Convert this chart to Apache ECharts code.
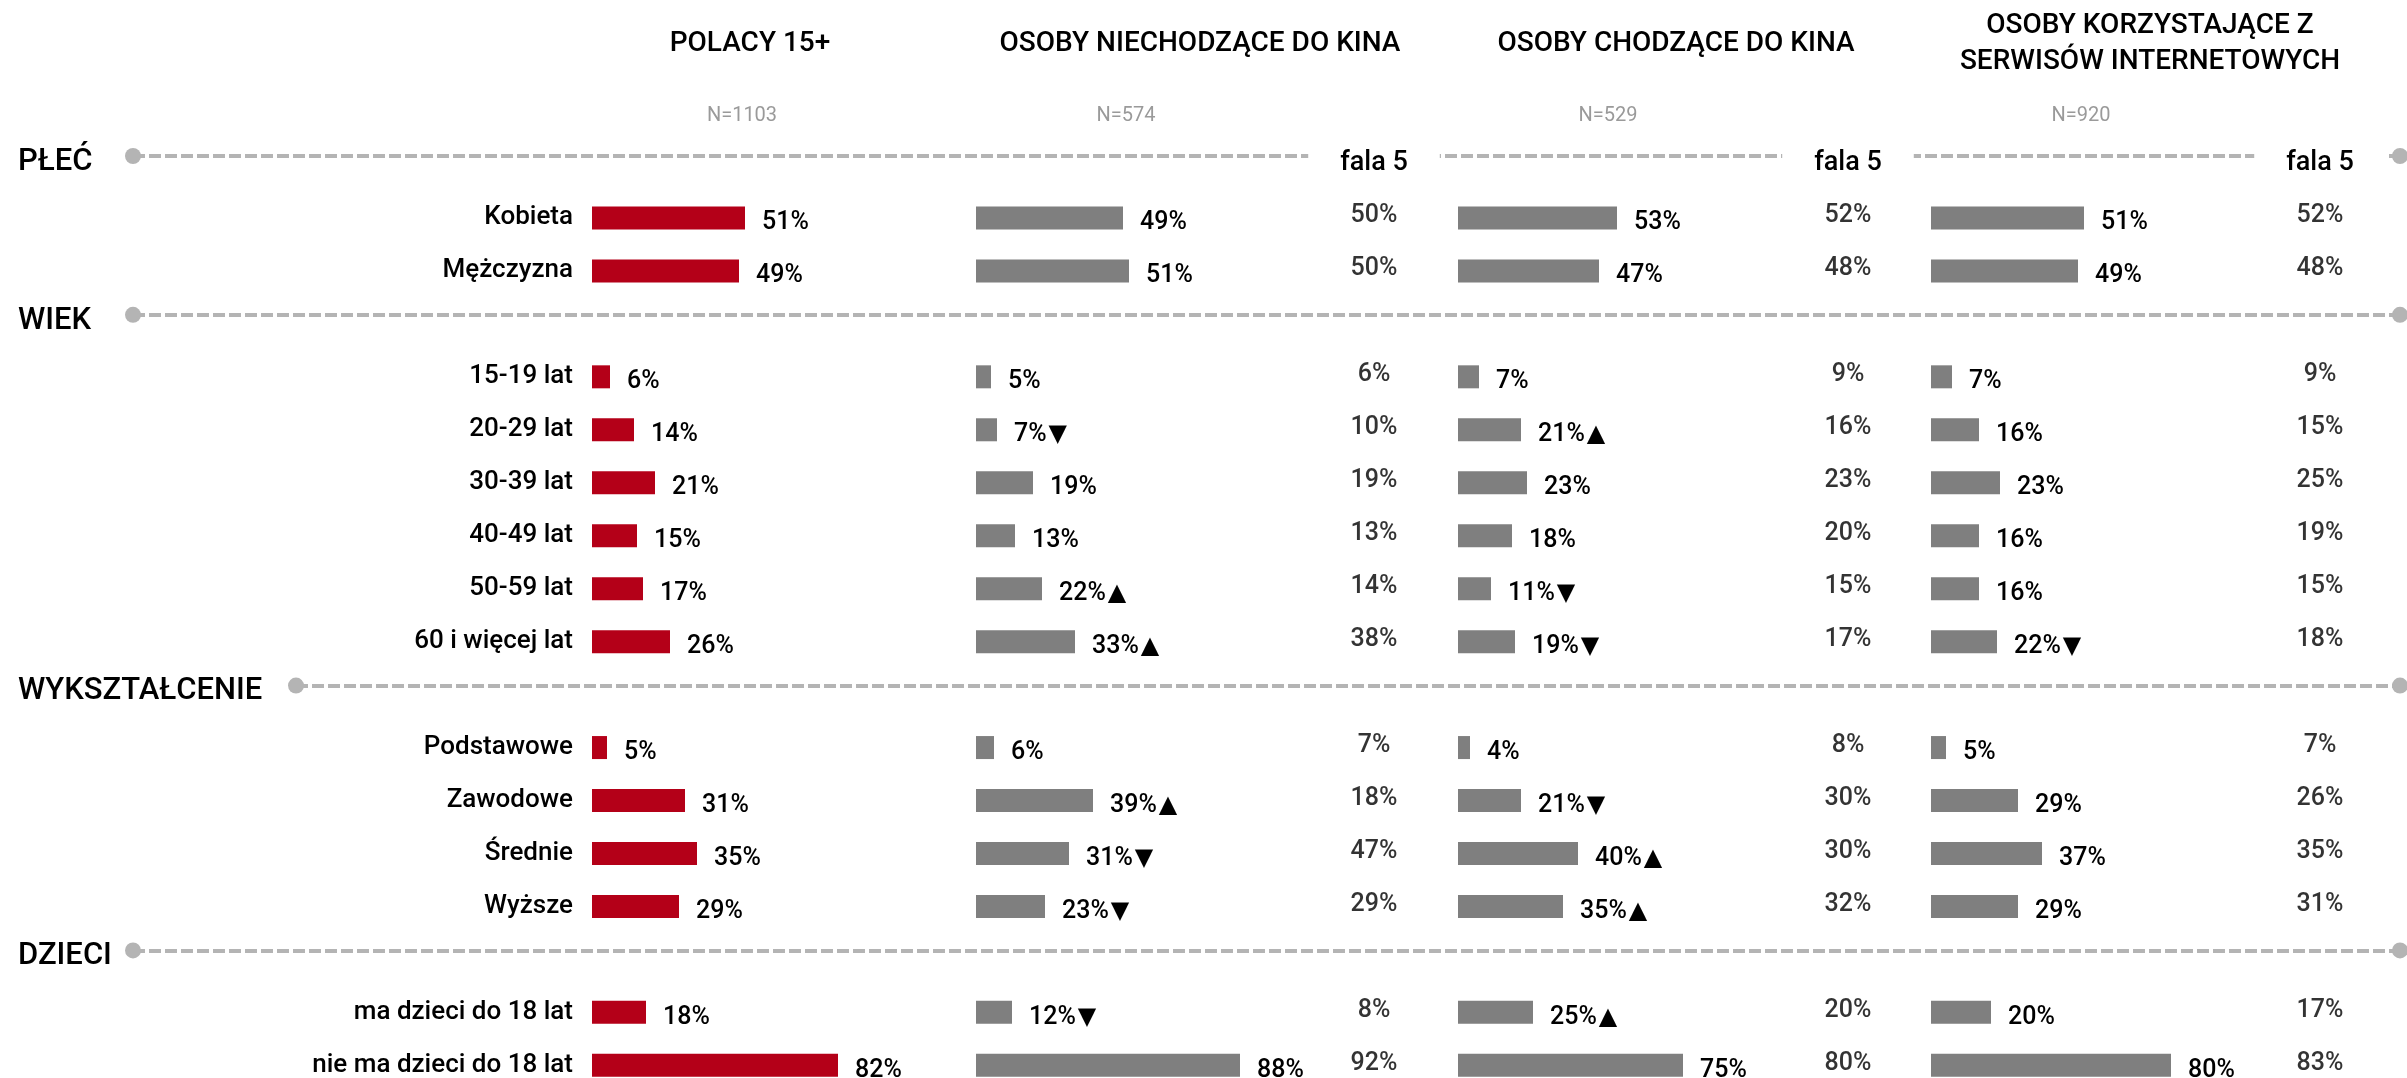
<!DOCTYPE html>
<html>
<head>
<meta charset="utf-8">
<title>Profil demograficzny</title>
<script src="https://cdn.jsdelivr.net/npm/echarts@6/dist/echarts.min.js"></script>
<style>
  html, body { margin: 0; padding: 0; background: #fff; }
  #chart { width: 2407px; height: 1078px; }
</style>
</head>
<body>
<div id="chart"></div>
<script>
// grupy i wiersze
const groups = ['PŁEĆ', 'WIEK', 'WYKSZTAŁCENIE', 'DZIECI'];
const rowsPlec = ['Kobieta', 'Mężczyzna'];
const rowsWiek = ['15-19 lat', '20-29 lat', '30-39 lat', '40-49 lat', '50-59 lat', '60 i więcej lat'];
const rowsWyksztalcenie = ['Podstawowe', 'Zawodowe', 'Średnie', 'Wyższe'];
const rowsDzieci = ['ma dzieci do 18 lat', 'nie ma dzieci do 18 lat'];

const columnTitles = ['POLACY 15+', 'OSOBY NIECHODZĄCE DO KINA', 'OSOBY CHODZĄCE DO KINA', 'OSOBY KORZYSTAJĄCE Z\nSERWISÓW INTERNETOWYCH'];
const sampleSizes = ['N=1103', 'N=574', 'N=529', 'N=920'];
const waveLabel = 'fala 5';

// wartości w %
const polacy = [51, 49, 6, 14, 21, 15, 17, 26, 5, 31, 35, 29, 18, 82];
const niechodzace = [49, 51, 5, 7, 19, 13, 22, 33, 6, 39, 31, 23, 12, 88];
const niechodzaceZnak = ['', '', '', '▼', '', '', '▲', '▲', '', '▲', '▼', '▼', '▼', ''];
const niechodzaceFala = [50, 50, 6, 10, 19, 13, 14, 38, 7, 18, 47, 29, 8, 92];
const chodzace = [53, 47, 7, 21, 23, 18, 11, 19, 4, 21, 40, 35, 25, 75];
const chodzaceZnak = ['', '', '', '▲', '', '', '▼', '▼', '', '▼', '▲', '▲', '▲', ''];
const chodzaceFala = [52, 48, 9, 16, 23, 20, 15, 17, 8, 30, 30, 32, 20, 80];
const serwisy = [51, 49, 7, 16, 23, 16, 16, 22, 5, 29, 37, 29, 20, 80];
const serwisyZnak = ['', '', '', '', '', '', '', '▼', '', '', '', '', '', ''];
const serwisyFala = [52, 48, 9, 15, 25, 19, 15, 18, 7, 26, 35, 31, 17, 83];

// układ (px)
const FONT = 'Roboto, "Liberation Sans", sans-serif';
const BAR_LEFT = [592, 976, 1458, 1931];
const TITLE_X = [750, 1200, 1676, 2150];
const WAVE_X = [1374, 1848, 2320];
const LINE_START = [133, 133, 296, 133];
const LINE_END = 2400;
const GRID_TOP = 138.5;
const GRID_BOTTOM = -13.8;

// sloty osi kategorii: nagłówek grupy + jej wiersze
const groupRows = [rowsPlec, rowsWiek, rowsWyksztalcenie, rowsDzieci];
const slots = [];
const slotRow = [];
let k = 0;
groups.forEach(function (g, gi) {
  slots.push(g);
  slotRow.push(-1);
  groupRows[gi].forEach(function (r) {
    slots.push(r);
    slotRow.push(k++);
  });
});

function toSlots(values) {
  return slotRow.map(function (i) { return i < 0 ? '-' : values[i]; });
}

const columns = [
  { values: polacy, signs: null, color: '#b40018' },
  { values: niechodzace, signs: niechodzaceZnak, color: '#7f7f7f' },
  { values: chodzace, signs: chodzaceZnak, color: '#7f7f7f' },
  { values: serwisy, signs: serwisyZnak, color: '#7f7f7f' }
];
const waves = [niechodzaceFala, chodzaceFala, serwisyFala];

const chart = echarts.init(document.getElementById('chart'), null, { renderer: 'canvas' });

const grids = [];
const xAxes = [];
const yAxes = [];
const series = [];

// siatka na całą szerokość - linie sekcji
grids.push({ left: 0, right: 0, top: GRID_TOP - 9, bottom: GRID_BOTTOM + 9, outerBoundsMode: 'none' });
xAxes.push({ gridIndex: 0, type: 'value', min: 0, max: 2407, show: false });
yAxes.push({
  gridIndex: 0, type: 'category', data: slots, inverse: true,
  axisLine: { show: false }, axisTick: { show: false }, splitLine: { show: false },
  axisLabel: {
    inside: true, margin: 18, interval: 0, align: 'left',
    verticalAlign: 'top', lineHeight: 12,
    color: '#000', fontSize: 31, fontWeight: 500, fontFamily: FONT,
    formatter: function (v) { return groups.indexOf(v) >= 0 ? v : ''; }
  }
});
series.push({
  type: 'line', xAxisIndex: 0, yAxisIndex: 0, data: [],
  markLine: {
    silent: true,
    symbol: ['circle', 'circle'],
    symbolSize: 16,
    label: { show: false },
    lineStyle: { color: '#b4b4b4', width: 4, type: [12, 4] },
    data: groups.map(function (g, gi) {
      return [{ coord: [LINE_START[gi], g] }, { coord: [LINE_END, g] }];
    })
  }
});

// kolumny słupków
columns.forEach(function (col, ci) {
  const gi = grids.length;
  grids.push({ left: BAR_LEFT[ci], width: 300, top: GRID_TOP, bottom: GRID_BOTTOM, outerBoundsMode: 'none' });
  xAxes.push({
    gridIndex: gi, type: 'value', min: 0, max: 100, position: 'top',
    name: sampleSizes[ci], nameLocation: 'middle', nameGap: 13,
    nameTextStyle: { color: '#9a9a9a', fontSize: 20, fontFamily: FONT },
    axisLine: { show: false }, axisTick: { show: false }, axisLabel: { show: false }, splitLine: { show: false }
  });
  yAxes.push({
    gridIndex: gi, type: 'category', data: slots, inverse: true,
    axisLine: { show: false }, axisTick: { show: false }, splitLine: { show: false },
    axisLabel: {
      show: ci === 0, margin: 19, interval: 0,
      color: '#000', fontSize: 26, fontWeight: 500, fontFamily: FONT,
      formatter: function (v) { return groups.indexOf(v) >= 0 ? '' : v; }
    }
  });
  series.push({
    type: 'bar', xAxisIndex: gi, yAxisIndex: gi,
    data: toSlots(col.values),
    barWidth: 23,
    itemStyle: { color: col.color },
    label: {
      show: true, position: 'right', distance: 17, offset: [0, 5],
      color: '#000', fontSize: 25, fontWeight: 500, fontFamily: FONT,
      formatter: function (p) {
        const s = col.signs ? col.signs[slotRow[p.dataIndex]] : '';
        return '{v|' + p.value + '%}' + (s ? '{t|' + s + '}' : '');
      },
      rich: {
        v: { color: '#000', fontSize: 25, fontWeight: 500, fontFamily: FONT },
        t: { color: '#000', fontSize: 24, fontFamily: '"DejaVu Sans", sans-serif', padding: [0, 0, 0, 2] }
      }
    }
  });
});

// kolumny "fala 5"
waves.forEach(function (w, wi) {
  const gi = grids.length;
  grids.push({ left: WAVE_X[wi] - 50, width: 100, top: GRID_TOP, bottom: GRID_BOTTOM, outerBoundsMode: 'none' });
  xAxes.push({ gridIndex: gi, type: 'value', min: -1, max: 1, show: false });
  yAxes.push({ gridIndex: gi, type: 'category', data: slots, inverse: true, show: false });
  const pts = [];
  slotRow.forEach(function (i, s) { if (i >= 0) pts.push([0, s, w[i]]); });
  series.push({
    type: 'scatter', xAxisIndex: gi, yAxisIndex: gi,
    data: pts, symbolSize: 1, itemStyle: { color: 'transparent' },
    label: {
      show: true, position: 'inside', offset: [0, -2],
      color: '#000', fontSize: 25, fontWeight: 500, fontFamily: FONT,
      formatter: function (p) { return p.value[2] + '%'; }
    }
  });
});

// nagłówki
const graphics = [];
columnTitles.forEach(function (t, i) {
  graphics.push({
    type: 'text', x: TITLE_X[i], y: 44, z: 100,
    style: {
      text: t, fill: '#000', font: '500 28px ' + FONT, lineHeight: 36,
      align: 'center', verticalAlign: 'middle', textAlign: 'center', textVerticalAlign: 'middle'
    }
  });
});
WAVE_X.forEach(function (x) {
  graphics.push({
    type: 'text', x: x, y: 163, z: 100,
    style: {
      text: waveLabel, fill: '#000', font: '500 27px ' + FONT,
      backgroundColor: '#fff', padding: [8, 32],
      align: 'center', verticalAlign: 'middle', textAlign: 'center', textVerticalAlign: 'middle'
    }
  });
});

chart.setOption({
  animation: false,
  backgroundColor: '#fff',
  grid: grids,
  xAxis: xAxes,
  yAxis: yAxes,
  series: series,
  graphic: graphics
});
</script>
</body>
</html>
